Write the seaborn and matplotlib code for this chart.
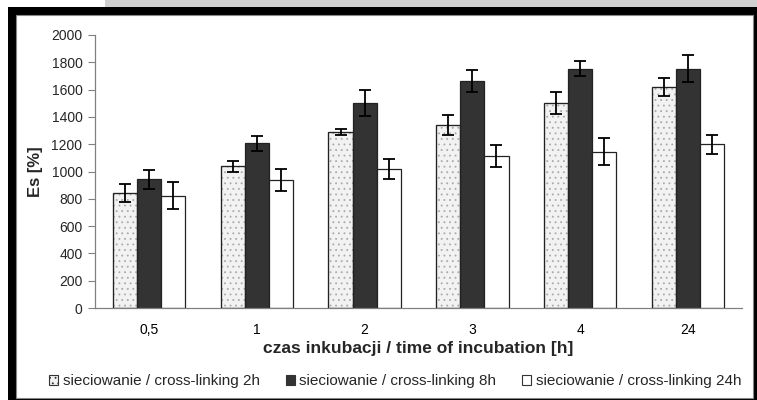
# -*- coding: utf-8 -*-
import numpy as np
import pandas as pd
import seaborn as sns
import matplotlib.pyplot as plt
from matplotlib.patches import Rectangle, Patch

czas = ["0,5", "1", "2", "3", "4", "24"]
serie = ["sieciowanie / cross-linking 2h", "sieciowanie / cross-linking 8h",
         "sieciowanie / cross-linking 24h"]
es_2h = [843, 1038, 1289, 1340, 1504, 1619]
es_8h = [943, 1206, 1502, 1663, 1753, 1753]
es_24h = [822, 940, 1018, 1111, 1145, 1201]
err_2h = [68, 40, 25, 75, 80, 65]
err_8h = [70, 55, 95, 80, 55, 100]
err_24h = [100, 80, 70, 80, 100, 70]


def main():
    df = pd.DataFrame({
        "czas": czas * 3,
        "seria": np.repeat(serie, len(czas)),
        "es": es_2h + es_8h + es_24h,
        "err": err_2h + err_8h + err_24h,
    })

    sns.set_theme(style="white", context="paper")
    plt.rcParams['font.family'] = ['Liberation Sans', 'DejaVu Sans']
    plt.rcParams['hatch.linewidth'] = 0.6

    fig = plt.figure(figsize=(7.57, 4.0), dpi=100)
    # ramka obrazka
    fig.patches.append(Rectangle((105/757, 393/400), 652/757, 7/400, transform=fig.transFigure,
                                 facecolor="#d0d0d0", edgecolor="none", zorder=-10))
    fig.patches.append(Rectangle((8/757, 0), 749/757, 393/400, transform=fig.transFigure,
                                 facecolor="black", edgecolor="none", zorder=-9))
    fig.patches.append(Rectangle((16/757, 2/400), 737/757, 383/400, transform=fig.transFigure,
                                 facecolor="white", edgecolor="#888888", linewidth=0.8, zorder=-8))

    ax = fig.add_axes([95/757, 92/400, 647/757, 273/400])
    ax.patch.set_alpha(0)
    palette = {serie[0]: "#f2f2f2", serie[1]: "#333333", serie[2]: "white"}
    sns.barplot(data=df, x="czas", y="es", hue="seria", order=czas, hue_order=serie,
                palette=palette, errorbar=None, width=0.67, edgecolor="#222222",
                linewidth=0.9, saturation=1, legend=False, ax=ax)

    for cont, s in zip(ax.containers, serie):
        sub = df[df["seria"] == s]
        xs = [p.get_x() + p.get_width() / 2 for p in cont.patches]
        ax.errorbar(xs, sub["es"], yerr=sub["err"], fmt="none", ecolor="black",
                    elinewidth=1.3, capsize=4, capthick=1.3, zorder=5)
        if s == serie[0]:
            for p in cont.patches:
                p.set_hatch("...")
                p.set_edgecolor("#aaaaaa")
                ax.add_patch(Rectangle((p.get_x(), 0), p.get_width(), p.get_height(),
                                       fill=False, edgecolor="#222222", linewidth=0.9, zorder=4))

    ax.set_ylim(0, 2000)
    ax.set_xlim(-0.5, len(czas) - 0.5)
    ax.set_yticks(range(0, 2001, 200))
    ax.set_xticks(range(len(czas)))
    ax.set_xticks(np.arange(-0.5, len(czas), 1), minor=True)
    ax.tick_params(axis="x", which="major", length=0, pad=11, labelsize=10, colors="black")
    ax.tick_params(axis="x", which="minor", length=5, width=0.8, color="#808080", direction="out")
    ax.tick_params(axis="y", length=5, width=0.8, color="#808080", labelsize=10, pad=4,
                   direction="out", left=True)
    for side in ["top", "right"]:
        ax.spines[side].set_visible(False)
    for side in ["left", "bottom"]:
        ax.spines[side].set_color("#808080")
        ax.spines[side].set_linewidth(0.9)

    ax.set_xlabel("czas inkubacji / time of incubation [h]", fontsize=12.5, fontweight="bold",
                  labelpad=3)
    ax.set_ylabel("Es [%]", fontsize=12, fontweight="bold", labelpad=6)

    handles = [Patch(facecolor="#f2f2f2", edgecolor="#333333", hatch="...", linewidth=0.8),
               Patch(facecolor="#333333", edgecolor="#333333", linewidth=0.8),
               Patch(facecolor="white", edgecolor="#333333", linewidth=0.8)]
    fig.legend(handles, serie, loc="center", bbox_to_anchor=(0.522, 0.047), ncol=3,
               frameon=False, fontsize=11, handlelength=0.6, handleheight=0.6,
               handletextpad=0.3, columnspacing=1.7)

    fig.savefig("out.png", dpi=100)


if __name__ == "__main__":
    main()
